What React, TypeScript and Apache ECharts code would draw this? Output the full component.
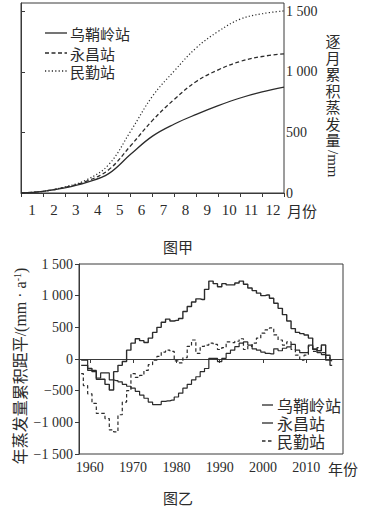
import React, { useEffect, useRef } from 'react';
import * as echarts from 'echarts';

// ---------- 图甲: monthly cumulative evaporation ----------
const monthLabels = ['1', '2', '3', '4', '5', '6', '7', '8', '9', '10', '11', '12'];
const monthBounds = [0, 1, 2, 3, 4, 5, 6, 7, 8, 9, 10, 11, 12];
const cumWushaoling = [0, 14, 42, 88, 160, 320, 470, 570, 650, 722, 785, 835, 875];
const cumYongchang = [0, 14, 47, 98, 192, 390, 600, 775, 922, 1018, 1087, 1128, 1150];
const cumMinqin = [0, 14, 50, 110, 234, 510, 800, 1010, 1200, 1335, 1437, 1481, 1505];
const topTicks = [0, 500, 1000, 1500];

// ---------- 图乙: cumulative anomaly of annual evaporation ----------
const years = [
  1958, 1959, 1960, 1961, 1962, 1963, 1964, 1965, 1966, 1967,
  1968, 1969, 1970, 1971, 1972, 1973, 1974, 1975, 1976, 1977,
  1978, 1979, 1980, 1981, 1982, 1983, 1984, 1985, 1986, 1987,
  1988, 1989, 1990, 1991, 1992, 1993, 1994, 1995, 1996, 1997,
  1998, 1999, 2000, 2001, 2002, 2003, 2004, 2005, 2006, 2007,
  2008, 2009, 2010, 2011, 2012, 2013, 2014, 2015, 2016,
];
const anomWushaoling = [
  -20, -20, -180, -180, -300, -220, -220, -330, -340, -360,
  -400, -430, -460, -510, -570, -620, -680, -720, -720, -670,
  -660, -650, -600, -540, -460, -400, -330, -280, -200, -150,
  10, 10, -40, 10, 90, 140, 195, 250, 270, 220,
  160, 140, 110, 90, 80, 160, 130, 170, 190, 230,
  140, 100, 100, 220, 150, 100, 70, -20, -30,
];
const anomYongchang = [
  -100, -100, -150, -200, -320, -320, -400, -490, -200, -100,
  -40, 140, 250, 320, 290, 260, 330, 420, 500, 580,
  630, 600, 610, 640, 750, 830, 900, 950, 940, 1100,
  1230, 1190, 1140, 1190, 1170, 1170, 1200, 1230, 1180, 1120,
  1080, 1040, 1000, 1010, 960, 880, 800, 700, 600, 480,
  420, 400, 380, 330, 160, 130, 220, 60, -100,
];
const anomMinqin = [
  -230, -420, -550, -700, -860, -860, -940, -1120, -1150, -880,
  -680, -500, -230, -290, -260, -180, -90, -20, 40, 110,
  140, 120, -30, -60, 20, 200, 300, 90, 200, 220,
  250, 230, 150, 180, 270, 260, 280, 320, 150, 200,
  250, 330, 410, 460, 490, 380, 300, 220, 270, 150,
  60, -20, 60, 200, 120, 180, 100, 20, -20,
];
const yearTicks = [1960, 1970, 1980, 1990, 2000, 2010];

const names = ['乌鞘岭站', '永昌站', '民勤站'];
const topAxisTitleChars = ['逐', '月', '累', '积', '蒸', '发', '量'];

const SERIF = '"Liberation Serif", "Noto Sans CJK SC", serif';
const CJK = '"Noto Sans CJK SC", sans-serif';
const INK = '#2b2b2b';
const AXIS = '#3a3a3a';

const topDash: Array<'solid' | number[]> = ['solid', [4, 2.5], [1.2, 2.2]];
const botDash: Array<'solid' | number[]> = ['solid', 'solid', [3.5, 2.5]];

function fmt(v: number): string {
  const a = Math.abs(v);
  let s = String(a);
  if (a >= 1000) s = s.slice(0, s.length - 3) + ' ' + s.slice(s.length - 3);
  return (v < 0 ? '\u2212' : '') + s;
}

function pairs(xs: number[], ys: number[]) {
  return xs.map((x, i) => [x, ys[i]]);
}

function legendGraphic(x1: number, x2: number, tx: number, ys: number[], dashes: Array<'solid' | number[]>, fontSize: number) {
  const out: any[] = [];
  names.forEach((n, i) => {
    const d = dashes[i];
    out.push({
      type: 'line',
      shape: { x1, y1: ys[i], x2, y2: ys[i] },
      style: { stroke: INK, lineWidth: 1.3, lineDash: d === 'solid' ? null : d },
    });
    out.push({
      type: 'text', x: tx, y: ys[i],
      style: { text: n, font: `${fontSize}px ${CJK}`, fill: INK, verticalAlign: 'middle', align: 'left' },
    });
  });
  return out;
}

export default function App() {
  const topRef = useRef<HTMLDivElement>(null);
  const botRef = useRef<HTMLDivElement>(null);

  useEffect(() => {
    const top = echarts.init(topRef.current!, undefined, { renderer: 'svg' });
    const bot = echarts.init(botRef.current!, undefined, { renderer: 'svg' });

    const lineBase = { type: 'line', symbol: 'none', showSymbol: false };

    const titleChars = topAxisTitleChars.map((c, i) => ({
      type: 'text', x: 333, y: 33 + i * 16.5,
      style: { text: c, font: `15px ${CJK}`, fill: INK, verticalAlign: 'top', align: 'center' },
    }));

    top.setOption({
      animation: false,
      grid: { left: 21, top: 3, width: 263, height: 190, show: true, borderColor: AXIS, borderWidth: 1, backgroundColor: 'transparent' },
      xAxis: [
        {
          type: 'value', min: 0, max: 12, interval: 1, position: 'bottom',
          axisLine: { show: true, lineStyle: { color: AXIS, width: 1 } },
          axisTick: { show: true, length: 4, lineStyle: { color: AXIS } },
          axisLabel: { show: false }, splitLine: { show: false },
        },
        {
          type: 'category', data: monthLabels, position: 'bottom', boundaryGap: true,
          axisLine: { show: false }, axisTick: { show: false }, splitLine: { show: false },
          axisLabel: { margin: 9, fontSize: 15, fontFamily: SERIF, color: INK, interval: 0 },
        },
      ],
      yAxis: {
        type: 'value', position: 'right', min: 0, max: 1570,
        axisLine: { show: true, lineStyle: { color: AXIS, width: 1 } },
        axisTick: { show: true, length: 4, customValues: topTicks, lineStyle: { color: AXIS } },
        axisLabel: { margin: 2, fontSize: 14, fontFamily: SERIF, color: INK, customValues: topTicks, formatter: (v: number) => fmt(v) },
        splitLine: { show: false },
      },
      series: [
        { ...lineBase, name: names[0], smooth: 0.4, data: pairs(monthBounds, cumWushaoling), lineStyle: { color: INK, width: 1.3, type: topDash[0] } },
        { ...lineBase, name: names[1], smooth: 0.4, data: pairs(monthBounds, cumYongchang), lineStyle: { color: INK, width: 1.3, type: topDash[1] } },
        { ...lineBase, name: names[2], smooth: 0.4, data: pairs(monthBounds, cumMinqin), lineStyle: { color: INK, width: 1.2, type: topDash[2] } },
      ],
      graphic: [
        ...legendGraphic(45, 67, 70, [33, 53, 71], topDash, 15),
        { type: 'text', x: 287, y: 210, style: { text: '月份', font: `15px ${CJK}`, fill: INK, verticalAlign: 'middle', align: 'left' } },
        { type: 'text', x: 178, y: 246, style: { text: '图甲', font: `15px ${CJK}`, fill: INK, verticalAlign: 'middle', align: 'center' } },
        ...titleChars,
        { type: 'text', x: 333, y: 150, rotation: -Math.PI / 2, style: { text: '/mm', font: `15px ${SERIF}`, fill: INK, verticalAlign: 'middle', align: 'left' } },
      ],
    });

    bot.setOption({
      animation: false,
      grid: { left: 79, top: 9, width: 264, height: 190, show: true, borderColor: AXIS, borderWidth: 1, backgroundColor: 'transparent' },
      xAxis: {
        type: 'value', min: 1957.5, max: 2018.5,
        axisLine: { show: true, lineStyle: { color: AXIS, width: 1 } },
        axisTick: { show: true, length: 4, customValues: yearTicks, lineStyle: { color: AXIS } },
        axisLabel: { margin: 6, fontSize: 14, fontFamily: SERIF, color: INK, customValues: yearTicks, formatter: (v: number) => String(v) },
        splitLine: { show: false },
      },
      yAxis: {
        type: 'value', min: -1500, max: 1500, interval: 500,
        axisLine: { show: true, lineStyle: { color: AXIS, width: 1 } },
        axisTick: { show: true, length: 4, lineStyle: { color: AXIS } },
        axisLabel: { margin: 6, fontSize: 14, fontFamily: SERIF, color: INK, formatter: (v: number) => fmt(v) },
        splitLine: { show: false },
      },
      series: [
        { ...lineBase, name: names[0], step: 'middle', data: pairs(years, anomWushaoling), lineStyle: { color: INK, width: 1.2, type: botDash[0] } },
        { ...lineBase, name: names[1], step: 'middle', data: pairs(years, anomYongchang), lineStyle: { color: INK, width: 1.4, type: botDash[1] } },
        { ...lineBase, name: names[2], step: 'middle', data: pairs(years, anomMinqin), lineStyle: { color: INK, width: 1.2, type: botDash[2] } },
      ],
      graphic: [
        ...legendGraphic(262, 273, 277, [150, 168, 186], botDash, 16),
        { type: 'text', x: 328, y: 213, style: { text: '年份', font: `15px ${CJK}`, fill: INK, verticalAlign: 'middle', align: 'left' } },
        { type: 'text', x: 178, y: 242, style: { text: '图乙', font: `15px ${CJK}`, fill: INK, verticalAlign: 'middle', align: 'center' } },
        {
          type: 'text', x: 20, y: 111, rotation: Math.PI / 2,
          style: {
            text: '年蒸发量累积距平/(mm · a{sup|-1})',
            font: `16px ${SERIF}`, fill: INK, verticalAlign: 'middle', align: 'center',
            rich: { sup: { fontSize: 10, fontFamily: SERIF, fill: INK, verticalAlign: 'top', padding: [0, 0, 6, 0] } },
          },
        },
      ],
    });

    return () => {
      top.dispose();
      bot.dispose();
    };
  }, []);

  return (
    <div style={{ position: 'absolute', left: 0, top: 0, width: 365, height: 509, background: '#fff' }}>
      <div ref={topRef} style={{ position: 'absolute', left: 0, top: 0, width: 365, height: 255 }} />
      <div ref={botRef} style={{ position: 'absolute', left: 0, top: 255, width: 365, height: 254 }} />
    </div>
  );
}
